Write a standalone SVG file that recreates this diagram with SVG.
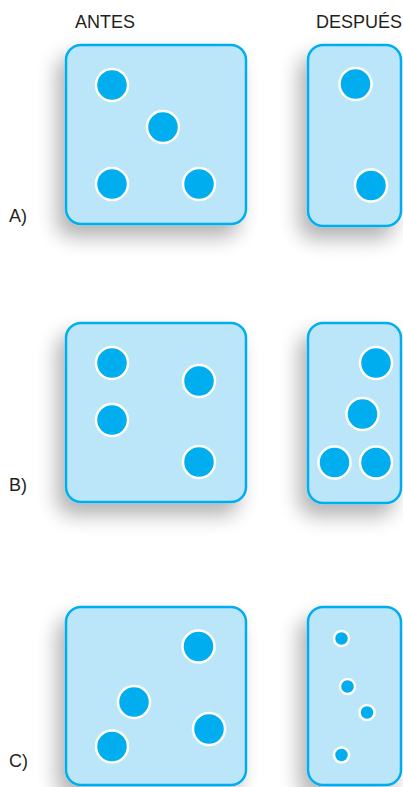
<svg xmlns="http://www.w3.org/2000/svg" width="403" height="787" viewBox="0 0 403 787">
<defs>
<filter id="sh" x="-40%" y="-30%" width="180%" height="170%">
<feGaussianBlur in="SourceAlpha" stdDeviation="10"/>
<feOffset dx="-8" dy="12" result="b"/>
<feComponentTransfer><feFuncA type="linear" slope="0.3"/></feComponentTransfer>
<feMerge><feMergeNode/><feMergeNode in="SourceGraphic"/></feMerge>
</filter>
</defs>
<style>
.box{fill:#bbe5f8;stroke:#00aeef;stroke-width:2.5}
.d{fill:#00aeef;stroke:#ffffff;stroke-width:2.5}
.t{font-family:"Liberation Sans",Arial,sans-serif;font-size:18px;fill:#231f20}
</style>
<rect width="403" height="787" fill="#ffffff"/>
<text class="t" x="75" y="28">ANTES</text>
<text class="t" x="316" y="28">DESPUÉS</text>
<text class="t" x="9" y="222">A)</text>
<text class="t" x="9" y="491">B)</text>
<text class="t" x="9" y="767">C)</text>
<g id="A-antes">
<rect class="box" x="66" y="45" width="180" height="179" rx="15" filter="url(#sh)"/>
<circle class="d" cx="112" cy="85" r="16"/>
<circle class="d" cx="163" cy="127" r="16"/>
<circle class="d" cx="112" cy="184" r="16"/>
<circle class="d" cx="199" cy="184" r="16"/>
</g>
<g id="A-despues">
<rect class="box" x="308" y="45" width="93" height="181" rx="15" filter="url(#sh)"/>
<circle class="d" cx="355.5" cy="84" r="16"/>
<circle class="d" cx="371" cy="185.5" r="16"/>
</g>
<g id="B-antes">
<rect class="box" x="66" y="323" width="180" height="179" rx="15" filter="url(#sh)"/>
<circle class="d" cx="112" cy="363" r="16"/>
<circle class="d" cx="199" cy="381" r="16"/>
<circle class="d" cx="112" cy="420" r="16"/>
<circle class="d" cx="199" cy="462" r="16"/>
</g>
<g id="B-despues">
<rect class="box" x="308" y="323" width="93" height="180" rx="15" filter="url(#sh)"/>
<circle class="d" cx="376" cy="363" r="16"/>
<circle class="d" cx="362.5" cy="414" r="16"/>
<circle class="d" cx="334.5" cy="462.5" r="16"/>
<circle class="d" cx="376" cy="462.5" r="16"/>
</g>
<g id="C-antes">
<rect class="box" x="66" y="607" width="180" height="178" rx="15" filter="url(#sh)"/>
<circle class="d" cx="198.5" cy="646.5" r="16"/>
<circle class="d" cx="134" cy="702" r="16"/>
<circle class="d" cx="209" cy="729" r="16"/>
<circle class="d" cx="112" cy="746.5" r="16"/>
</g>
<g id="C-despues">
<rect class="box" x="308" y="607" width="93" height="178" rx="15" filter="url(#sh)"/>
<circle class="d" cx="341.5" cy="638.5" r="7.5" stroke-width="2"/>
<circle class="d" cx="347.5" cy="686.5" r="7.5" stroke-width="2"/>
<circle class="d" cx="367" cy="712.5" r="7.5" stroke-width="2"/>
<circle class="d" cx="341.5" cy="755" r="7.5" stroke-width="2"/>
</g>
</svg>
